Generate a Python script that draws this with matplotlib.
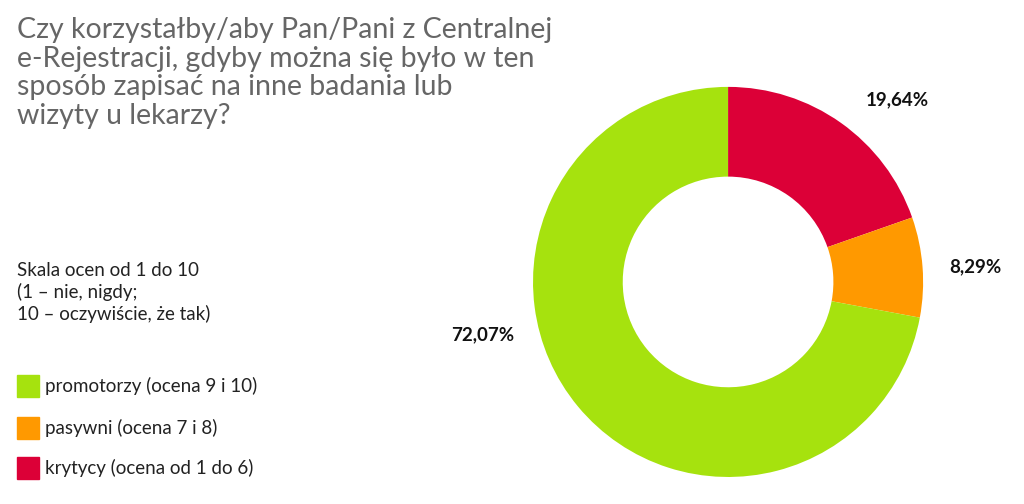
import matplotlib
matplotlib.use("Agg")
import matplotlib.pyplot as plt
from matplotlib.patches import Rectangle

categories = ["krytycy (ocena od 1 do 6)", "pasywni (ocena 7 i 8)", "promotorzy (ocena 9 i 10)"]
values = [19.64, 8.29, 72.07]
labels = ["19,64%", "8,29%", "72,07%"]
colors = ["#dc0037", "#ff9900", "#a6e20e"]

plt.rcParams['font.family'] = ['Lato', 'DejaVu Sans']
fig = plt.figure(figsize=(10.24, 5.04), dpi=100)
ax = fig.add_axes([0.5205, 0.0536, 0.381, 0.774])
ax.pie(values, colors=colors, startangle=90, counterclock=False,
       wedgeprops=dict(width=0.46, edgecolor='none'))
ax.set_aspect('equal')
ax.set_xlim(-1, 1); ax.set_ylim(-1, 1)

lab_pos = [(897, 100), (975, 267), (483, 335)]
for (x, y), t in zip(lab_pos, labels):
    fig.text(x/1024, 1 - y/504, t, ha='center', va='center', fontsize=13.5, fontweight='bold', color='#111')

fig.text(17/1024, 1 - 17/504,
         "Czy korzystałby/aby Pan/Pani z Centralnej\ne-Rejestracji, gdyby można się było w ten\nsposób zapisać na inne badania lub\nwizyty u lekarzy?",
         ha='left', va='top', fontsize=20.5, color='#666666', linespacing=1.12)
fig.text(17/1024, 1 - 262/504, "Skala ocen od 1 do 10\n(1 – nie, nigdy;\n10 – oczywiście, że tak)",
         ha='left', va='top', fontsize=13.5, color='#222', linespacing=1.25)

leg_y = [386, 428, 468]
for yy, c, t in zip(leg_y, [colors[2], colors[1], colors[0]], [categories[2], categories[1], categories[0]]):
    fig.patches.append(Rectangle((17/1024, 1 - (yy+11)/504), 22/1024, 22/504, color=c, transform=fig.transFigure))
    fig.text(45/1024, 1 - yy/504, t, ha='left', va='center', fontsize=13.5, color='#222')

fig.savefig("out.png", dpi=100)
